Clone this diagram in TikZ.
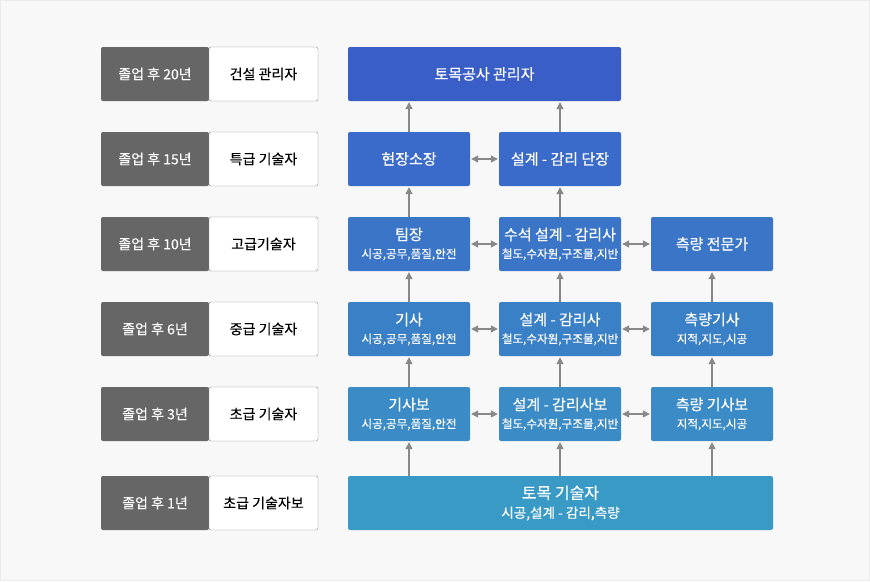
\documentclass[tikz,border=0pt]{standalone}
\usepackage{fontspec}
\usetikzlibrary{arrows.meta}
\newfontfamily\krfont[FakeBold=0.15]{Noto Sans CJK KR}
\newfontfamily\krmed[FakeBold=0.4]{Noto Sans CJK KR}
\definecolor{bgcol}{HTML}{F8F8F8}
\definecolor{yrcol}{HTML}{666666}
\definecolor{arrcol}{HTML}{888888}
\definecolor{lvA}{HTML}{3A5EC8}
\definecolor{lvB}{HTML}{3A6BCA}
\definecolor{lvC}{HTML}{3A75C8}
\definecolor{lvD}{HTML}{3A80C6}
\definecolor{lvE}{HTML}{3A8BC6}
\definecolor{lvF}{HTML}{3A9AC6}
\newcommand\subtxt[1]{{\fontsize{11.6}{13}\selectfont #1}}

\begin{document}
\begin{tikzpicture}[x=1pt,y=-1pt,
      yrbox/.style={fill=yrcol,text=white,minimum width=108pt,minimum height=54pt,
        rounded corners=2pt,font=\krfont\fontsize{14}{16}\selectfont},
      gradebox/.style={fill=white,draw=arrcol,minimum width=109pt,minimum height=54pt,
        rounded corners=2pt,font=\krfont\fontsize{14}{16}\selectfont},
      jobbox/.style={text=white,minimum width=122pt,minimum height=54pt,align=center,
        rounded corners=2pt,inner sep=2pt,font=\krmed\fontsize{15}{18}\selectfont},
      uparr/.style={-{Triangle[width=7pt,length=7pt]},draw=arrcol,fill=arrcol,
        line width=1.2pt,shorten >=1pt},
      duoarr/.style={{Triangle[width=7pt,length=7pt]}-{Triangle[width=7pt,length=7pt]},
        draw=arrcol,fill=arrcol,line width=1.2pt,shorten >=1pt,shorten <=1pt}]
    \useasboundingbox (0,0) rectangle (870,581);
    \draw[fill=bgcol,draw=black!8] (0.5,0.5) rectangle (869.5,580.5);
    % years and grades
    \node[yrbox] (y20) at (155,74) {졸업 후 20년};
    \node[gradebox] (g20) at (263.5,74) {건설 관리자};
    \node[yrbox] (y15) at (155,159) {졸업 후 15년};
    \node[gradebox] (g15) at (263.5,159) {특급 기술자};
    \node[yrbox] (y10) at (155,244) {졸업 후 10년};
    \node[gradebox] (g10) at (263.5,244) {고급기술자};
    \node[yrbox] (y6) at (155,329) {졸업 후 6년};
    \node[gradebox] (g6) at (263.5,329) {중급 기술자};
    \node[yrbox] (y3) at (155,414) {졸업 후 3년};
    \node[gradebox] (g3) at (263.5,414) {초급 기술자};
    \node[yrbox] (y1) at (155,503) {졸업 후 1년};
    \node[gradebox] (g1) at (263.5,503) {초급 기술자보};
    % careers
    \node[jobbox,fill=lvA,minimum width=273pt] (mgr) at (484.5,74) {토목공사 관리자};
    \node[jobbox,fill=lvB] (site) at (409,159) {현장소장};
    \node[jobbox,fill=lvB] (dlead) at (560,159) {설계 - 감리 단장};
    \node[jobbox,fill=lvC] (team) at (409,244) {팀장\\\subtxt{시공,공무,품질,안전}};
    \node[jobbox,fill=lvC] (dchief) at (560,244) {수석 설계 - 감리사\\\subtxt{철도,수자원,구조물,지반}};
    \node[jobbox,fill=lvC] (sexp) at (712,244) {측량 전문가};
    \node[jobbox,fill=lvD] (eng) at (409,329) {기사\\\subtxt{시공,공무,품질,안전}};
    \node[jobbox,fill=lvD] (deng) at (560,329) {설계 - 감리사\\\subtxt{철도,수자원,구조물,지반}};
    \node[jobbox,fill=lvD] (seng) at (712,329) {측량기사\\\subtxt{지적,지도,시공}};
    \node[jobbox,fill=lvE] (aeng) at (409,414) {기사보\\\subtxt{시공,공무,품질,안전}};
    \node[jobbox,fill=lvE] (adeng) at (560,414) {설계 - 감리사보\\\subtxt{철도,수자원,구조물,지반}};
    \node[jobbox,fill=lvE] (aseng) at (712,414) {측량 기사보\\\subtxt{지적,지도,시공}};
    \node[jobbox,fill=lvF,minimum width=425pt,font=\krmed\fontsize{16}{19}\selectfont] (civil) at (560.5,503)
      {토목 기술자\\{\fontsize{13.6}{15}\selectfont 시공,설계 - 감리,측량}};
    % arrows
    \draw[uparr] (site.north) -- (site.north |- mgr.south);
    \draw[uparr] (dlead.north) -- (dlead.north |- mgr.south);
    \draw[uparr] (team) -- (site);
    \draw[uparr] (dchief) -- (dlead);
    \draw[uparr] (eng) -- (team);
    \draw[uparr] (deng) -- (dchief);
    \draw[uparr] (seng) -- (sexp);
    \draw[uparr] (aeng) -- (eng);
    \draw[uparr] (adeng) -- (deng);
    \draw[uparr] (aseng) -- (seng);
    \draw[uparr] (aeng.south |- civil.north) -- (aeng.south);
    \draw[uparr] (adeng.south |- civil.north) -- (adeng.south);
    \draw[uparr] (aseng.south |- civil.north) -- (aseng.south);
    \draw[duoarr] (site) -- (dlead);
    \draw[duoarr] (team) -- (dchief);
    \draw[duoarr] (dchief) -- (sexp);
    \draw[duoarr] (eng) -- (deng);
    \draw[duoarr] (deng) -- (seng);
    \draw[duoarr] (aeng) -- (adeng);
    \draw[duoarr] (adeng) -- (aseng);
  \end{tikzpicture}
\end{document}
